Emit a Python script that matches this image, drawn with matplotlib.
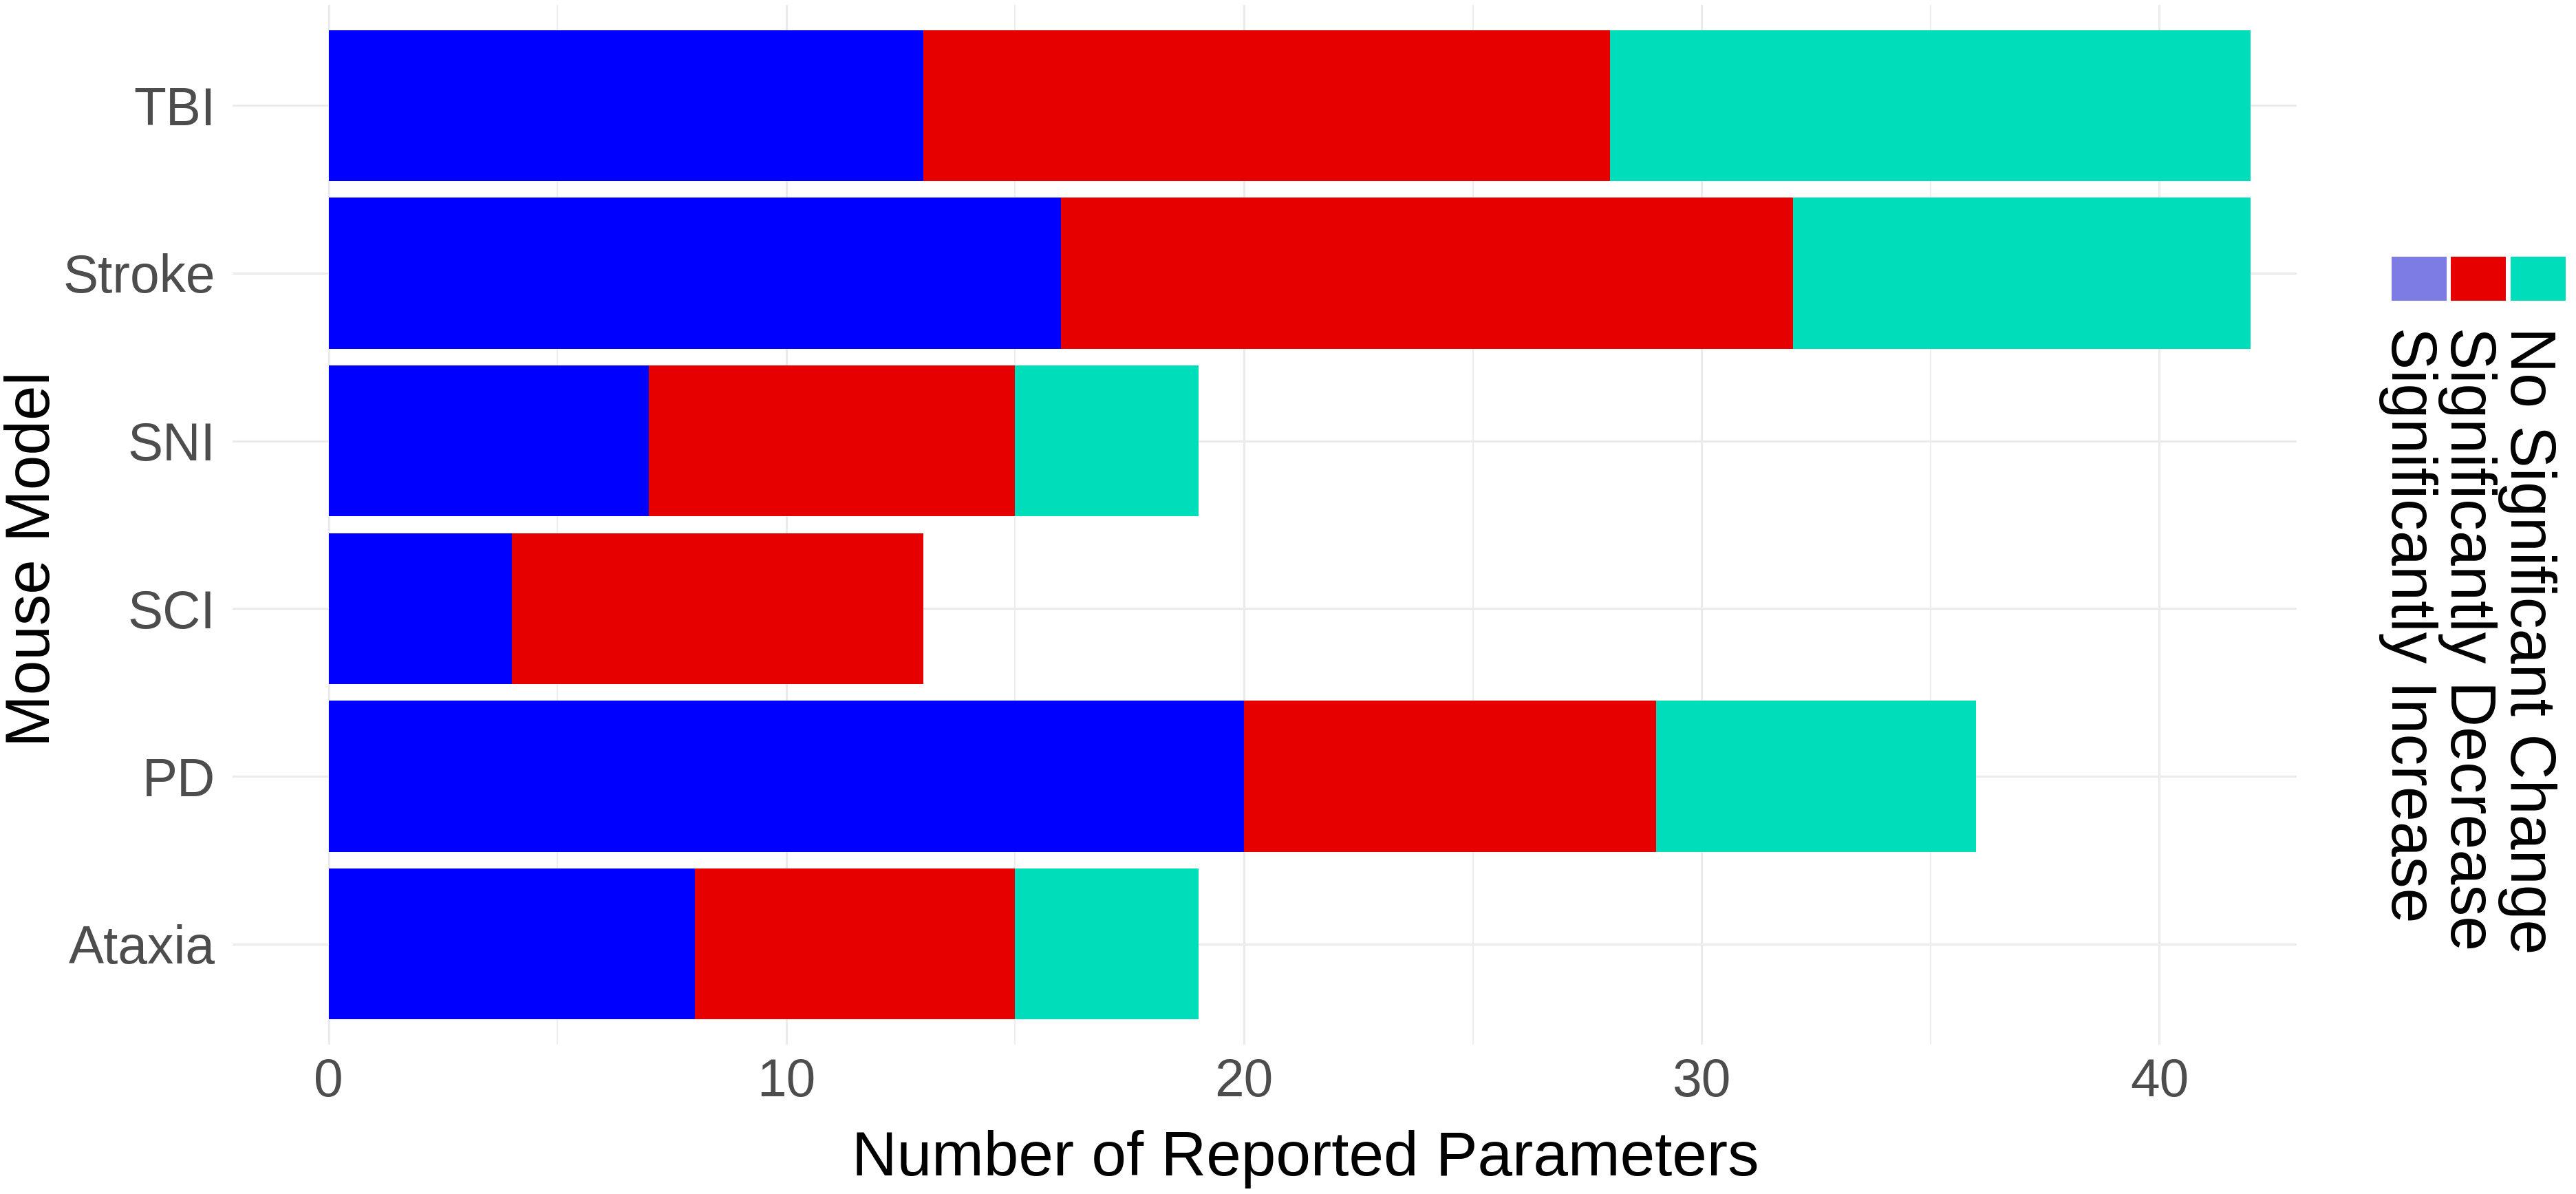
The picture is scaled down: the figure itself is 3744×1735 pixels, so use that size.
import matplotlib
matplotlib.use("Agg")
import matplotlib.pyplot as plt
from matplotlib.patches import Rectangle
import numpy as np

plt.rcParams['font.family'] = ['Liberation Sans', 'DejaVu Sans']

# ---- data ----
models = ["Ataxia", "PD", "SCI", "SNI", "Stroke", "TBI"]          # bottom -> top
sig_increase = [8, 20, 4, 7, 16, 13]
sig_decrease = [7, 9, 9, 8, 16, 15]
no_change = [4, 7, 0, 4, 10, 14]
series_labels = ["Significantly Increase", "Significantly Decrease", "No Significant Change"]
bar_colors = ["#0000FF", "#E60000", "#00DDBB"]
legend_colors = ["#7C7CE4", "#E60000", "#00DDBB"]
x_ticks = [0, 10, 20, 30, 40]
x_minor = [5, 15, 25, 35]

W, H = 3745, 1735
DPI = 300
fig = plt.figure(figsize=(W / DPI, H / DPI), dpi=DPI)
fig.patch.set_facecolor("white")

def fx(px):
    return px / W

def fy(py):
    return 1 - py / H

left, right, top, bottom = 338, 3338, 7, 1518
ax = fig.add_axes([fx(left), fy(bottom), fx(right) - fx(left), fy(top) - fy(bottom)])
ax.set_facecolor("white")

y = np.arange(len(models))
series = [sig_increase, sig_decrease, no_change]
base = np.zeros(len(models))
for vals, col, lab in zip(series, bar_colors, series_labels):
    ax.barh(y, vals, left=base, height=0.9, color=col, edgecolor="none", label=lab, zorder=3)
    base = base + np.array(vals)

ax.set_xlim(-2.1, 43.0)
ax.set_ylim(-0.6, len(models) - 1 + 0.6)
ax.set_xticks(x_ticks)
ax.set_xticks(x_minor, minor=True)
ax.set_yticks(y)
ax.set_yticklabels(models)
ax.tick_params(axis="both", which="both", length=0)
ax.tick_params(axis="y", pad=6, labelsize=18.4, labelcolor="#4D4D4D")
ax.tick_params(axis="x", pad=4.3, labelsize=18.4, labelcolor="#4D4D4D")
for s in ax.spines.values():
    s.set_visible(False)
ax.grid(True, which="major", axis="both", color="#EBEBEB", linewidth=0.75, zorder=0)
ax.grid(True, which="minor", axis="x", color="#EBEBEB", linewidth=0.4, zorder=0)
ax.set_axisbelow(True)

# axis titles
fig.text(fx(1238), fy(1708), "Number of Reported Parameters",
         ha="left", va="baseline", fontsize=21.8, color="black")
fig.text(fx(6), fy(1085), "Mouse Model", rotation=90,
         ha="left", va="bottom", fontsize=21.8, color="black")

# legend (keys in a row, labels rotated)
key_x = [3476, 3562, 3649]
key_w, key_h = 80, 64
key_top = 373
for kx, col, lab in zip(key_x, legend_colors, series_labels):
    fig.add_artist(Rectangle((fx(kx), fy(key_top + key_h)), fx(key_w), key_h / H,
                             transform=fig.transFigure, facecolor=col, edgecolor="none"))
    fig.text(fx(kx + key_w / 2 - 16), fy(475), lab, rotation=270,
             ha="center", va="top", fontsize=22, color="black")

fig.savefig("out.png", dpi=DPI, facecolor="white")
